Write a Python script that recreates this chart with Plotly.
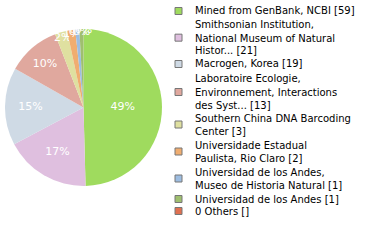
import plotly.graph_objects as go

labels = [
    "Mined from GenBank, NCBI [59]",
    "Smithsonian Institution,<br>National Museum of Natural<br>Histor... [21]",
    "Macrogen, Korea [19]",
    "Laboratoire Ecologie,<br>Environnement, Interactions<br>des Syst... [13]",
    "Southern China DNA Barcoding<br>Center [3]",
    "Universidade Estadual<br>Paulista, Rio Claro [2]",
    "Universidad de los Andes,<br>Museo de Historia Natural [1]",
    "Universidad de los Andes [1]",
    "0 Others []",
]
values = [59, 21, 19, 13, 3, 2, 1, 1, 0]
colors = ["#9fdb5e", "#dfbfdf", "#cfdae5", "#e0a89e", "#dfe0a0",
          "#f0ad70", "#9dbde1", "#9fbf6f", "#e07050"]

total = sum(values)
pct_text = [f"{int(v * 100 / total)}%" for v in values]

W, H = 380, 240
fig = go.Figure()
fig.add_trace(go.Pie(
    labels=[l.replace("<br>", " ") for l in labels],
    values=values,
    text=pct_text,
    textinfo="text",
    textposition="inside",
    insidetextorientation="horizontal",
    textfont=dict(family="DejaVu Sans", size=11, color="white"),
    marker=dict(colors=colors, line=dict(width=0)),
    sort=False,
    direction="clockwise",
    rotation=0,
    showlegend=False,
    hoverinfo="skip",
    domain=dict(x=[5 / W, 162 / W], y=[1 - 186 / H, 1 - 29 / H]),
))

# legend rows (pixel y of each text line)
line_rows = [[11], [25, 38, 50], [64], [79, 92, 105], [118, 131],
             [145, 158], [172, 185], [199], [211]]
for lab, col, rows in zip(labels, colors, line_rows):
    cy = sum(rows) / len(rows)
    fig.add_shape(type="rect", xref="paper", yref="paper",
                  x0=175 / W, x1=182 / W, y0=1 - (cy - 3.5) / H, y1=1 - (cy + 3.5) / H,
                  fillcolor=col, line=dict(color="#777777", width=1))
    for txt, ry in zip(lab.split("<br>"), rows):
        fig.add_annotation(text=txt, xref="paper", yref="paper",
                           x=193 / W, y=1 - ry / H, xanchor="left", yanchor="middle",
                           showarrow=False,
                           font=dict(family="DejaVu Sans", size=10, color="#000000"))

fig.update_layout(
    width=W, height=H,
    margin=dict(l=0, r=0, t=0, b=0),
    paper_bgcolor="white", plot_bgcolor="white",
    uniformtext=dict(minsize=11, mode="show"),
)
fig.write_html("out.html")
